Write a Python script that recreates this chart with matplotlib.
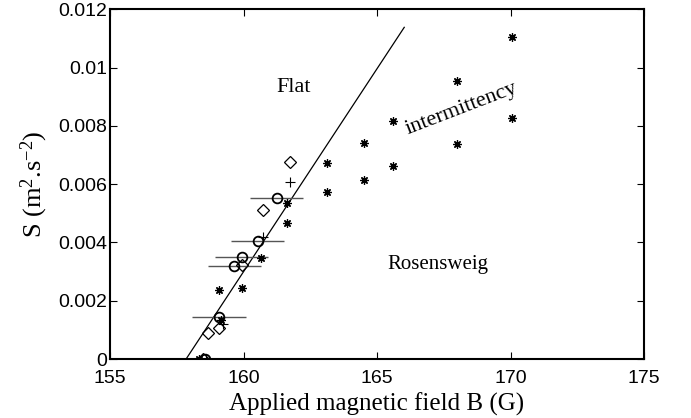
import matplotlib
matplotlib.use("Agg")
import matplotlib.pyplot as plt
import numpy as np

# data
circ_B = [158.55, 159.08, 159.66, 159.93, 160.53, 161.24]
circ_S = [0.0, 0.00143, 0.00320, 0.00349, 0.00406, 0.00554]
circ_err = [1.0, 1.0, 0.98, 0.98, 0.98, 1.0]

diam_B = [158.5, 158.68, 159.10, 159.94, 160.74, 161.74]
diam_S = [0.0, 0.00090, 0.00107, 0.00323, 0.00511, 0.00675]

plus_B = [158.6, 159.24, 160.72, 161.74]
plus_S = [0.0, 0.00119, 0.00418, 0.00606]

star_B = [158.35, 159.10, 159.15, 159.94, 160.66, 161.64, 161.64,
          163.14, 163.14, 164.52, 164.52, 165.61, 165.61,
          167.98, 167.98, 170.07, 170.07]
star_S = [0.0, 0.00237, 0.00134, 0.00243, 0.00348, 0.00536, 0.00468,
          0.00574, 0.00672, 0.00614, 0.00742, 0.00663, 0.00817,
          0.00739, 0.00955, 0.00826, 0.01104]

# threshold fit line
fit_B0 = 157.85
fit_slope = 0.001393
fit_Bmax = 166.02

plt.rcParams['font.family'] = 'Liberation Sans'
plt.rcParams['mathtext.fontset'] = 'custom'
plt.rcParams['mathtext.rm'] = 'Liberation Serif'
plt.rcParams['mathtext.it'] = 'Liberation Serif:italic'

fig = plt.figure(figsize=(6.91, 4.18), dpi=100)
ax = fig.add_axes([0.1592, 0.1411, 0.7728, 0.8367])

bb = np.array([fit_B0, fit_Bmax])
ax.plot(bb, fit_slope * (bb - fit_B0), color='k', lw=0.9)

ax.errorbar(circ_B, circ_S, xerr=circ_err, fmt='none', ecolor='#555555',
            elinewidth=1.0, capsize=0)
ax.plot(circ_B, circ_S, 'o', mfc='none', mec='k', ms=7, mew=1.3, ls='none')
ax.plot(diam_B, diam_S, 'D', mfc='none', mec='k', ms=6, mew=0.9, ls='none')
ax.plot(plus_B, plus_S, '+', color='k', ms=7, mew=0.8, ls='none')
ax.plot(star_B, star_S, marker=(8, 2, 0), color='k', ms=6, mew=0.9, ls='none')

serif = 'Liberation Serif'
ax.text(161.87, 0.0093, 'Flat', family=serif, fontsize=16,
        ha='center', va='center')
ax.text(167.28, 0.00323, 'Rosensweig', family=serif, fontsize=15,
        ha='center', va='center')
ax.text(168.18, 0.00858, 'intermittency', family=serif, fontsize=16,
        ha='center', va='center', rotation=21, rotation_mode='anchor')

ax.set_xlim(155, 175)
ax.set_ylim(0, 0.012)
ax.set_xticks([155, 160, 165, 170, 175])
ax.set_yticks([0, 0.002, 0.004, 0.006, 0.008, 0.01, 0.012])
ax.set_yticklabels(['0', '0.002', '0.004', '0.006', '0.008', '0.01', '0.012'])
ax.tick_params(direction='in', length=5, width=0.8, top=True, right=True,
               labelsize=14, pad=2)
ax.tick_params(axis='x', pad=8)
for s in ax.spines.values():
    s.set_linewidth(1.5)

ax.set_xlabel('Applied magnetic field B (G)', family=serif, fontsize=18,
              labelpad=4)
ax.set_ylabel(r'S (m$^{2}$.s$^{-2}$)', family=serif, fontsize=19,
              labelpad=6)

fig.savefig('out.png', dpi=100)
